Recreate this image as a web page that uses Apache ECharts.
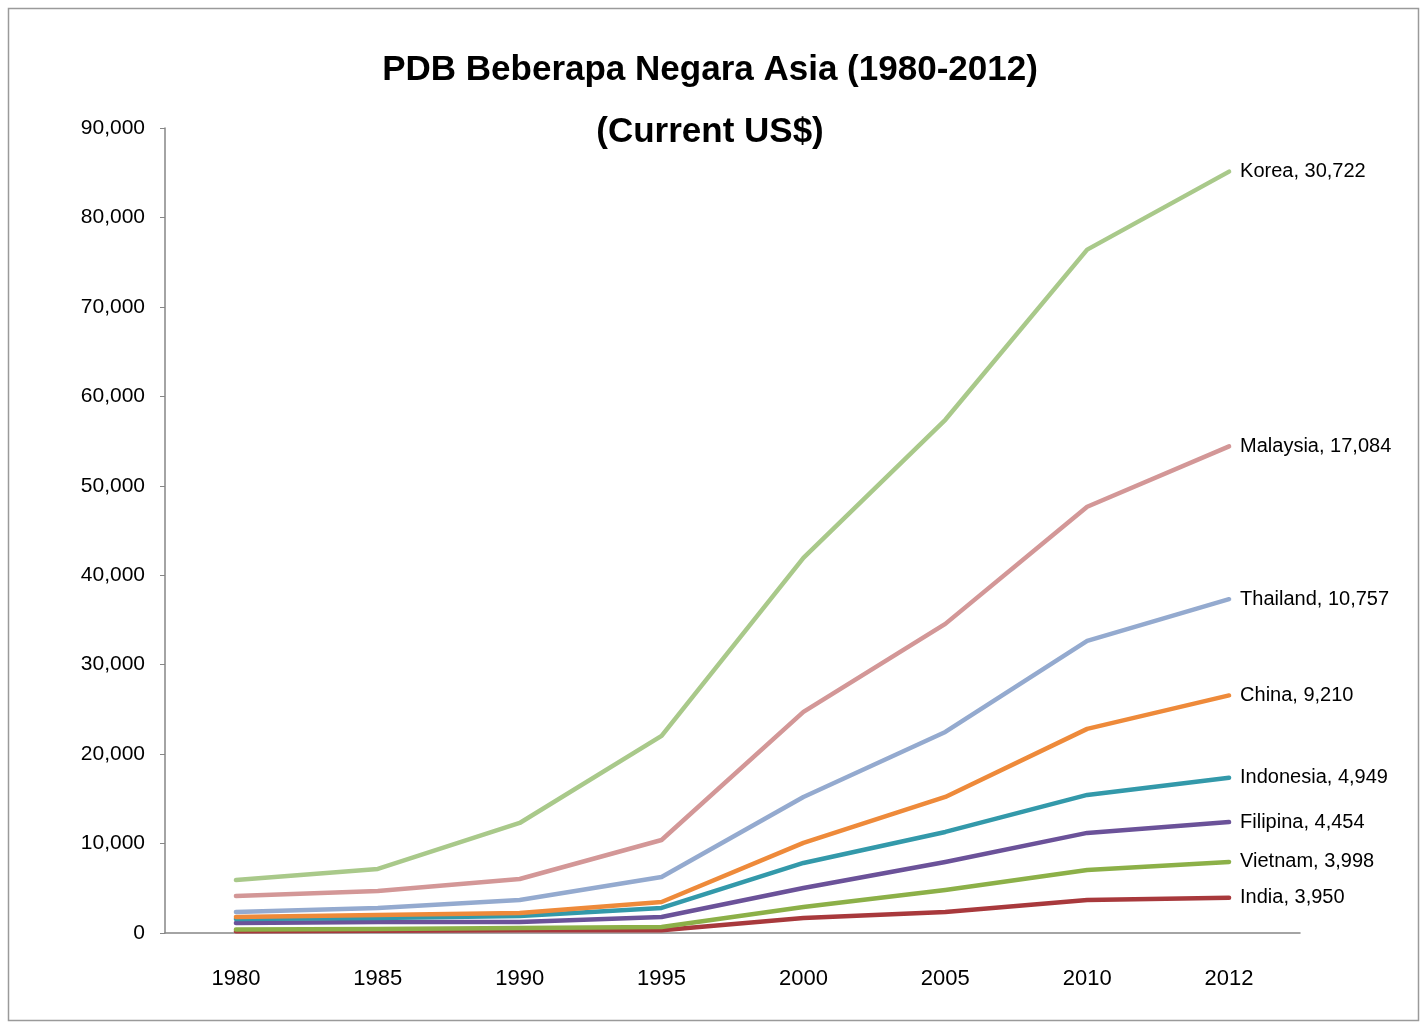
<!DOCTYPE html>
<html>
<head>
<meta charset="utf-8">
<script src="https://cdn.jsdelivr.net/npm/echarts@6/dist/echarts.min.js"></script>
<style>
html,body{margin:0;padding:0;background:#fff;}
#chart{width:1420px;height:1024px;}
</style>
</head>
<body>
<div id="chart"></div>
<script>
// Categories (years)
const years = ['1980','1985','1990','1995','2000','2005','2010','2012'];
// Individual series values (stacked in the chart, bottom to top)
const india     = [200, 250, 300, 300, 1680, 2350, 3690, 3950];
const vietnam   = [200, 200, 260, 370, 1230, 2460, 3360, 3998];
const filipina  = [720, 780, 670, 1120, 2120, 3130, 4140, 4454];
const indonesia = [450, 450, 670, 1010, 2800, 3360, 4250, 4949];
const china     = [220, 330, 340, 670, 2240, 3910, 7380, 9210];
const thailand  = [560, 790, 1450, 2790, 5140, 7270, 9840, 10757];
const malaysia  = [1790, 1900, 2350, 4140, 9510, 12080, 14990, 17084];
const korea     = [1790, 2460, 6260, 11640, 17230, 22820, 28750, 30722];
const seriesNames = ['India','Vietnam','Filipina','Indonesia','China','Thailand','Malaysia','Korea'];
const seriesData = [india, vietnam, filipina, indonesia, china, thailand, malaysia, korea];
const seriesColors = ['#A8393C','#8CB048','#6B5299','#3399AA','#EE8A3A','#94AACF','#D39797','#A9C98A'];
const yTicks = [0, 10000, 20000, 30000, 40000, 50000, 60000, 70000, 80000, 90000];

const fmt = v => v.toLocaleString('en-US');
const FONT = '"Liberation Sans Narrow", "Liberation Sans", Arial, sans-serif';

const chart = echarts.init(document.getElementById('chart'));
chart.setOption({
  backgroundColor: '#ffffff',
  animation: false,
  title: {
    text: 'PDB Beberapa Negara Asia (1980-2012)\n(Current US$)',
    left: 'center',
    top: 34,
    textStyle: {fontFamily: FONT, fontSize: 35, fontWeight: 'bold', color: '#000', lineHeight: 62}
  },
  graphic: [{
    type: 'rect', left: 6, top: 6,
    shape: {width: 1410, height: 1012},
    style: {fill: 'none', stroke: '#9a9a9a', lineWidth: 1.5},
    silent: true
  }],
  grid: {left: 165, right: 120, top: 128, bottom: 91, containLabel: false},
  xAxis: {
    type: 'category',
    data: years,
    boundaryGap: true,
    axisLine: {show: true, lineStyle: {color: '#868686', width: 1.5}},
    axisTick: {show: false},
    axisLabel: {fontFamily: FONT, fontSize: 22, color: '#000', margin: 35},
    splitLine: {show: false}
  },
  yAxis: {
    type: 'value',
    min: yTicks[0],
    max: yTicks[yTicks.length - 1],
    interval: yTicks[1] - yTicks[0],
    axisLine: {show: true, lineStyle: {color: '#868686', width: 1.5}},
    axisTick: {show: true, length: 5, lineStyle: {color: '#868686'}},
    axisLabel: {fontFamily: FONT, fontSize: 21, color: '#000', margin: 20, formatter: v => fmt(v)},
    splitLine: {show: false}
  },
  series: seriesNames.map((name, i) => ({
    name: name,
    type: 'line',
    stack: 'total',
    data: seriesData[i],
    symbol: 'none',
    smooth: false,
    lineStyle: {width: 4.5, color: seriesColors[i], cap: 'round', join: 'round'},
    itemStyle: {color: seriesColors[i]},
    endLabel: {
      show: true,
      distance: 11,
      fontFamily: FONT,
      fontSize: 20,
      color: '#000',
      formatter: p => name + ', ' + fmt(seriesData[i][seriesData[i].length - 1])
    }
  }))
});
</script>
</body>
</html>
